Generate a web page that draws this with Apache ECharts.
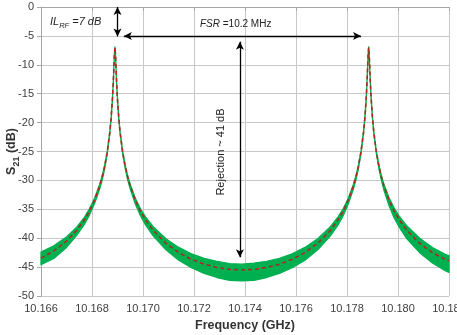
<!DOCTYPE html>
<html>
<head>
<meta charset="utf-8">
<script src="https://cdn.jsdelivr.net/npm/echarts@6/dist/echarts.min.js"></script>
<style>
  html, body { margin: 0; padding: 0; background: #fff; }
  #chart { width: 457px; height: 335px; }
</style>
</head>
<body>
<div id="chart"></div>
<script>
// frequency points (GHz)
const freqs = [
  10.1660, 10.1665, 10.1670, 10.1674, 10.1677, 10.1679, 10.1681, 10.1683, 10.1684, 10.1685,
  10.1686, 10.1687, 10.16875, 10.1688, 10.16882, 10.16884, 10.16886, 10.16888, 10.1689, 10.16892,
  10.16894, 10.16896, 10.16898, 10.1690, 10.16905, 10.1691, 10.1692, 10.1693, 10.1694, 10.1695,
  10.1697, 10.1699, 10.1701, 10.1704, 10.1709, 10.1714, 10.1719, 10.1724, 10.1729, 10.1734,
  10.17388, 10.17435, 10.17485, 10.17535, 10.17585, 10.17635, 10.17685, 10.17735, 10.17765, 10.17785,
  10.17805, 10.17825, 10.17835, 10.17845, 10.17855, 10.17865, 10.1787, 10.17875, 10.17877, 10.17879,
  10.17881, 10.17883, 10.17885, 10.17887, 10.17889, 10.17891, 10.17893, 10.17895, 10.1790, 10.17905,
  10.17915, 10.17925, 10.17935, 10.17945, 10.17965, 10.17985, 10.18005, 10.18035, 10.18085, 10.18135,
  10.18185, 10.1820
];
// fitted S21 (dB), red dashed
const fitDb = [
  -43.45, -42.2, -40.5, -38.64, -36.82, -35.31, -33.42, -30.97, -29.41, -27.5,
  -25.04, -21.61, -19.23, -16.02, -14.38, -12.46, -10.26, -8.07, -7.0, -8.07,
  -10.26, -12.46, -14.38, -16.02, -19.23, -21.61, -25.04, -27.5, -29.41, -30.97,
  -33.42, -35.31, -36.82, -38.64, -40.89, -42.49, -43.66, -44.5, -45.06, -45.39,
  -45.5, -45.39, -45.06, -44.5, -43.66, -42.49, -40.89, -38.64, -36.82, -35.31,
  -33.42, -30.97, -29.41, -27.5, -25.04, -21.61, -19.23, -16.02, -14.38, -12.46,
  -10.26, -8.07, -7.0, -8.07, -10.26, -12.46, -14.38, -16.02, -19.23, -21.61,
  -25.04, -27.5, -29.41, -30.97, -33.42, -35.31, -36.82, -38.64, -40.89, -42.49,
  -43.66, -43.9
];
// measured S21 (dB), green noise band: top and bottom edges
const measUpper = [
  -42.4, -41.3, -39.8, -38.1, -36.4, -34.9, -33.1, -30.7, -29.2, -27.3,
  -24.9, -21.5, -19.1, -15.9, -14.3, -12.4, -10.2, -8.0, -6.9, -8.0,
  -10.2, -12.4, -14.3, -15.9, -19.1, -21.5, -24.9, -27.3, -29.2, -30.7,
  -33.1, -34.9, -36.3, -38.0, -40.1, -41.6, -42.7, -43.5, -44.0, -44.4,
  -44.5, -44.3, -44.0, -43.5, -42.7, -41.6, -40.1, -38.0, -36.3, -34.9,
  -33.1, -30.7, -29.2, -27.3, -24.9, -21.5, -19.1, -15.9, -14.3, -12.4,
  -10.2, -8.0, -6.9, -8.0, -10.2, -12.4, -14.3, -15.9, -19.1, -21.5,
  -24.9, -27.3, -29.2, -30.7, -33.0, -34.8, -36.2, -37.9, -40.0, -41.6,
  -42.8, -43.0
];
const measLower = [
  -44.6, -43.5, -41.6, -39.5, -37.6, -36.0, -34.0, -31.5, -29.9, -27.9,
  -25.3, -21.8, -19.4, -16.2, -14.5, -12.6, -10.4, -8.2, -7.1, -8.2,
  -10.4, -12.6, -14.5, -16.2, -19.4, -21.8, -25.3, -27.9, -29.9, -31.5,
  -34.1, -36.1, -37.7, -39.6, -42.0, -43.8, -45.1, -46.1, -46.8, -47.3,
  -47.4, -47.3, -46.8, -46.1, -45.1, -43.8, -42.0, -39.6, -37.7, -36.1,
  -34.1, -31.5, -29.9, -27.9, -25.3, -21.8, -19.4, -16.2, -14.5, -12.6,
  -10.4, -8.2, -7.1, -8.2, -10.4, -12.6, -14.5, -16.2, -19.4, -21.8,
  -25.3, -27.9, -30.0, -31.7, -34.4, -36.5, -38.1, -40.1, -42.5, -44.3,
  -45.6, -45.9
];
// annotation arrows [x1, y1, x2, y2] in data units
const ilArrow = [10.1690, 0, 10.1690, -5.1];
const fsrArrow = [10.16925, -5.0, 10.17855, -5.0];
const rejArrow = [10.1738, -6.0, 10.1738, -43.3];

const font = "'Liberation Sans', Arial, sans-serif";
const chart = echarts.init(document.getElementById('chart'));

const arrowLine = (a) => [{ coord: [a[0], a[1]] }, { coord: [a[2], a[3]] }];

chart.setOption({
  animation: false,
  textStyle: { fontFamily: font },
  grid: { left: 41, top: 7, right: 8, bottom: 39, containLabel: false, outerBoundsMode: 'none' },
  xAxis: {
    type: 'value',
    min: 10.166,
    max: 10.182,
    interval: 0.002,
    name: 'Frequency (GHz)',
    nameLocation: 'middle',
    nameGap: 23,
    nameMoveOverlap: false,
    nameTextStyle: { fontSize: 12.5, fontWeight: 'bold', color: '#333', fontFamily: font },
    axisLine: { lineStyle: { color: '#a6a6a6' } },
    axisTick: { show: true, length: 4, lineStyle: { color: '#a6a6a6' } },
    axisLabel: {
      fontSize: 11, color: '#404040', margin: 7, fontFamily: font,
      showMinLabel: true, showMaxLabel: true, hideOverlap: false,
      formatter: (v) => v.toFixed(3)
    },
    splitLine: { show: true, lineStyle: { color: '#c8c8c8', width: 1 } }
  },
  yAxis: {
    type: 'value',
    min: -50,
    max: 0,
    interval: 5,
    name: '{b|S}{s|21}{b| (dB)}',
    nameLocation: 'middle',
    nameGap: 23,
    nameMoveOverlap: false,
    nameRotate: 90,
    nameTextStyle: {
      rich: {
        b: { fontSize: 12.5, fontWeight: 'bold', color: '#333', fontFamily: font, lineHeight: 16, verticalAlign: 'bottom' },
        s: { fontSize: 9, fontWeight: 'bold', color: '#333', fontFamily: font, lineHeight: 16, verticalAlign: 'bottom', padding: [0, 0, -3, 0] }
      }
    },
    axisLine: { show: true, lineStyle: { color: '#a6a6a6' } },
    axisTick: { show: true, length: 4, lineStyle: { color: '#a6a6a6' } },
    axisLabel: {
      fontSize: 11, color: '#404040', margin: 7, fontFamily: font,
      showMinLabel: true, showMaxLabel: true, hideOverlap: false
    },
    splitLine: { show: true, lineStyle: { color: '#c8c8c8', width: 1 } }
  },
  series: [
    {
      type: 'custom',
      name: 'measured',
      data: [[freqs[0], fitDb[0]]],
      encode: { x: 0, y: 1 },
      renderItem: function (params, api) {
        const pts = [];
        for (let i = 0; i < freqs.length; i++) pts.push(api.coord([freqs[i], measUpper[i]]));
        for (let i = freqs.length - 1; i >= 0; i--) pts.push(api.coord([freqs[i], measLower[i]]));
        return {
          type: 'polygon',
          shape: { points: pts },
          style: { fill: '#00b050', stroke: '#00b050', lineWidth: 1.3, lineJoin: 'round' }
        };
      },
      z: 2
    },
    {
      type: 'line',
      name: 'fit',
      data: freqs.map((f, i) => [f, fitDb[i]]),
      showSymbol: false,
      smooth: false,
      lineStyle: { color: '#b0281e', width: 1.6, type: [4, 3] },
      z: 3,
      markLine: {
        silent: true,
        symbol: ['arrow', 'arrow'],
        symbolSize: [6, 8],
        label: { show: false },
        lineStyle: { color: '#000', width: 1.3, type: 'solid' },
        data: [arrowLine(ilArrow), arrowLine(fsrArrow), arrowLine(rejArrow)]
      }
    }
  ],
  graphic: [
    {
      type: 'text',
      left: 50,
      top: 16,
      style: {
        text: '{i|IL}{s|RF}{i| =7 dB}',
        rich: {
          i: { fontSize: 11, fontStyle: 'italic', fill: '#222', fontFamily: font, lineHeight: 14, verticalAlign: 'bottom' },
          s: { fontSize: 7.5, fontStyle: 'italic', fill: '#222', fontFamily: font, lineHeight: 14, verticalAlign: 'bottom', padding: [0, 0, -3, 0] }
        }
      },
      z: 10
    },
    {
      type: 'text',
      left: 200,
      top: 19,
      style: {
        text: '{i|FSR}{n| =10.2 MHz}',
        rich: {
          i: { fontSize: 10, fontStyle: 'italic', fill: '#222', fontFamily: font },
          n: { fontSize: 10, fill: '#222', fontFamily: font }
        }
      },
      z: 10
    },
    {
      type: 'text',
      x: 221,
      y: 152,
      rotation: Math.PI / 2,
      style: {
        text: 'Rejection ~ 41 dB',
        fontSize: 11,
        fill: '#222',
        fontFamily: font,
        textAlign: 'center',
        textVerticalAlign: 'middle'
      },
      z: 10
    }
  ]
});
</script>
</body>
</html>
